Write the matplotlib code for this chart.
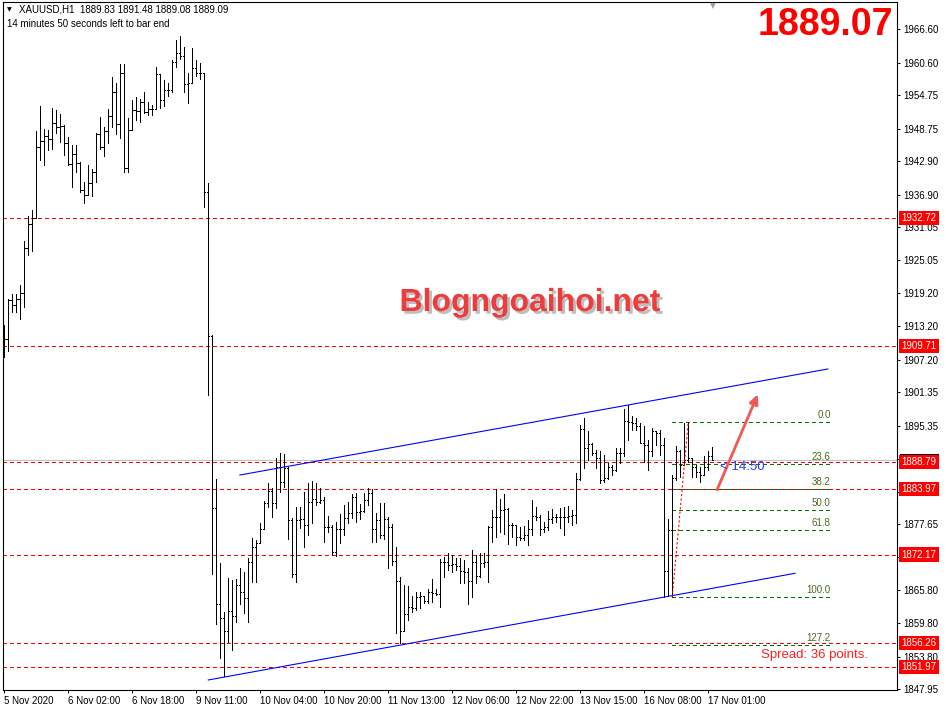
import matplotlib
matplotlib.use("Agg")
import matplotlib.pyplot as plt
import matplotlib.patheffects as pe
import matplotlib.transforms as mtrans
from matplotlib.collections import LineCollection
from matplotlib.patches import Rectangle

plt.rcParams['font.family'] = ['Liberation Sans', 'DejaVu Sans']

# ---------------- data ----------------
opens = [1908.5, 1910.9, 1917.9, 1917.0, 1918.2, 1919.2, 1927.2, 1931.6, 1932.6, 1945.4,
         1946.5, 1947.5, 1946.9, 1949.7, 1949.0, 1949.3, 1946.1, 1942.3, 1944.2, 1942.6,
         1937.7, 1936.9, 1938.9, 1940.9, 1947.7, 1945.4, 1948.3, 1951.1, 1955.4, 1949.5,
         1958.7, 1941.6, 1948.5, 1952.1, 1951.9, 1953.6, 1951.8, 1952.2, 1952.2, 1958.5,
         1953.9, 1955.6, 1955.6, 1960.7, 1962.4, 1961.8, 1956.8, 1956.9, 1959.6, 1958.7,
         1958.8, 1937.4, 1911.5, 1880.6, 1863.2, 1860.7, 1858.5, 1862.1, 1861.2, 1866.7,
         1865.4, 1864.3, 1870.8, 1873.6, 1874.2, 1876.8, 1881.4, 1883.6, 1881.5, 1888.0,
         1885.2, 1887.7, 1878.4, 1868.6, 1878.4, 1878.5, 1877.5, 1881.7, 1882.1, 1881.6,
         1882.0, 1877.1, 1877.1, 1872.7, 1876.7, 1876.7, 1878.7, 1879.7, 1882.5, 1879.8,
         1880.0, 1881.9, 1883.2, 1876.7, 1878.4, 1875.7, 1878.5, 1877.1, 1871.0, 1867.5,
         1858.5, 1861.5, 1862.8, 1862.5, 1864.6, 1864.7, 1863.9, 1865.4, 1865.3, 1865.1,
         1870.9, 1870.8, 1870.3, 1870.4, 1870.1, 1869.2, 1869.1, 1867.4, 1870.9, 1868.3,
         1870.6, 1870.9, 1877.2, 1878.9, 1878.9, 1880.2, 1880.3, 1877.5, 1877.4, 1875.4,
         1875.2, 1875.7, 1876.7, 1879.1, 1878.9, 1876.7, 1877.1, 1878.5, 1879.0, 1878.9,
         1878.9, 1878.9, 1879.1, 1879.3, 1885.7, 1894.7, 1891.4, 1892.0, 1890.5, 1889.5,
         1885.5, 1886.0, 1888.0, 1887.4, 1890.4, 1890.5, 1896.2, 1896.0, 1895.8, 1895.3,
         1892.3, 1891.9, 1890.7, 1894.3, 1894.0, 1891.9, 1869.2, 1876.6, 1885.9, 1890.7,
         1888.3, 1889.2, 1889.5, 1888.0, 1887.1, 1886.5, 1888.0, 1889.83]

highs = [1913.4, 1918.2, 1919.1, 1919.1, 1920.7, 1928.5, 1933.0, 1934.1, 1948.3, 1952.8,
         1948.7, 1948.5, 1952.4, 1952.1, 1951.3, 1949.4, 1947.3, 1945.8, 1945.8, 1942.8,
         1939.2, 1942.2, 1941.4, 1947.9, 1950.8, 1949.1, 1952.2, 1958.1, 1957.0, 1960.4,
         1960.4, 1950.6, 1953.9, 1954.5, 1954.0, 1955.4, 1953.6, 1953.0, 1959.9, 1958.6,
         1957.4, 1956.9, 1961.0, 1964.7, 1965.4, 1963.4, 1958.7, 1963.2, 1961.1, 1960.5,
         1958.8, 1939.0, 1911.6, 1885.7, 1870.6, 1861.8, 1867.9, 1867.6, 1867.7, 1869.7,
         1869.1, 1871.5, 1875.1, 1874.7, 1877.8, 1881.8, 1885.0, 1884.1, 1889.5, 1890.4,
         1890.2, 1888.0, 1878.7, 1880.8, 1880.7, 1883.5, 1885.1, 1885.4, 1885.0, 1884.1,
         1882.5, 1879.1, 1877.5, 1878.1, 1879.5, 1881.1, 1881.7, 1883.0, 1883.2, 1881.2,
         1883.3, 1884.2, 1883.9, 1879.6, 1881.4, 1881.5, 1879.0, 1877.6, 1873.6, 1868.1,
         1866.7, 1866.5, 1864.7, 1865.5, 1865.5, 1864.8, 1865.9, 1867.7, 1865.9, 1871.3,
         1871.8, 1872.4, 1872.1, 1871.5, 1871.5, 1871.2, 1869.7, 1873.0, 1872.1, 1872.4,
         1872.4, 1877.3, 1880.2, 1883.9, 1882.1, 1883.1, 1880.5, 1877.8, 1877.5, 1877.1,
         1877.3, 1878.4, 1881.9, 1880.8, 1879.3, 1878.1, 1880.0, 1880.3, 1879.5, 1880.5,
         1880.8, 1880.9, 1880.1, 1886.9, 1895.5, 1896.7, 1894.3, 1892.2, 1891.0, 1890.7,
         1890.1, 1888.6, 1888.3, 1891.3, 1891.3, 1898.3, 1899.1, 1897.1, 1896.7, 1895.8,
         1895.2, 1892.8, 1894.9, 1894.3, 1894.6, 1893.1, 1878.6, 1886.5, 1891.6, 1891.0,
         1895.8, 1895.95, 1889.6, 1888.3, 1888.0, 1889.8, 1890.7, 1891.48]

lows = [1907.7, 1908.8, 1915.8, 1915.8, 1914.6, 1916.6, 1926.1, 1926.8, 1932.6, 1943.1,
        1942.2, 1944.9, 1945.0, 1947.9, 1946.4, 1944.0, 1942.2, 1938.3, 1941.0, 1937.4,
        1935.4, 1936.8, 1936.7, 1939.2, 1945.0, 1943.8, 1946.2, 1949.1, 1947.8, 1947.0,
        1941.0, 1941.0, 1949.8, 1950.3, 1949.9, 1951.6, 1951.2, 1951.2, 1952.2, 1952.5,
        1952.8, 1954.6, 1955.4, 1959.9, 1961.2, 1955.4, 1953.3, 1956.9, 1958.2, 1957.6,
        1934.7, 1900.8, 1868.6, 1859.6, 1853.5, 1850.3, 1856.5, 1855.1, 1860.1, 1863.3,
        1861.6, 1860.1, 1867.3, 1867.3, 1874.2, 1876.8, 1880.8, 1878.9, 1880.5, 1883.5,
        1884.4, 1874.9, 1868.2, 1867.3, 1876.9, 1873.5, 1875.7, 1877.9, 1881.1, 1881.5,
        1874.5, 1876.3, 1872.1, 1871.9, 1874.2, 1875.7, 1877.8, 1878.7, 1878.1, 1878.5,
        1879.9, 1881.1, 1874.5, 1874.5, 1875.1, 1875.0, 1869.8, 1870.3, 1858.1, 1856.3,
        1858.5, 1860.4, 1861.9, 1862.2, 1862.5, 1863.4, 1863.5, 1863.7, 1864.9, 1862.8,
        1868.2, 1869.4, 1869.1, 1869.4, 1867.1, 1867.1, 1863.2, 1864.6, 1867.1, 1868.2,
        1870.0, 1867.3, 1874.5, 1875.4, 1876.3, 1875.9, 1874.1, 1875.4, 1873.9, 1874.8,
        1874.8, 1873.9, 1875.7, 1878.4, 1875.7, 1876.3, 1876.6, 1877.9, 1878.1, 1876.9,
        1875.7, 1878.0, 1877.5, 1877.9, 1885.5, 1887.7, 1889.2, 1890.1, 1887.7, 1885.0,
        1885.3, 1885.8, 1886.5, 1887.2, 1888.6, 1889.8, 1892.8, 1894.6, 1894.6, 1892.2,
        1888.9, 1887.4, 1889.8, 1891.9, 1890.1, 1864.6, 1864.9, 1864.54, 1885.5, 1886.2,
        1888.3, 1888.9, 1886.2, 1886.2, 1885.3, 1886.5, 1887.4, 1889.08]

closes = [1910.9, 1917.9, 1917.0, 1918.2, 1919.2, 1927.2, 1931.6, 1932.6, 1945.4, 1946.5,
          1947.5, 1946.9, 1949.7, 1949.0, 1949.3, 1946.1, 1942.3, 1944.2, 1942.6, 1937.7,
          1936.9, 1938.9, 1940.9, 1947.7, 1945.4, 1948.3, 1951.1, 1955.4, 1949.5, 1958.7,
          1941.6, 1948.5, 1952.1, 1951.9, 1953.6, 1951.8, 1952.2, 1952.2, 1958.5, 1953.9,
          1955.6, 1955.6, 1960.7, 1962.4, 1961.8, 1956.8, 1956.9, 1959.6, 1958.7, 1958.8,
          1937.4, 1911.5, 1880.6, 1863.2, 1860.7, 1858.5, 1862.1, 1861.2, 1866.7, 1865.4,
          1864.3, 1870.8, 1873.6, 1874.2, 1876.8, 1881.4, 1883.6, 1881.5, 1888.0, 1885.2,
          1887.7, 1878.4, 1868.6, 1878.4, 1878.5, 1877.5, 1881.7, 1882.1, 1881.6, 1882.0,
          1877.1, 1877.1, 1872.7, 1876.7, 1876.7, 1878.7, 1879.7, 1882.5, 1879.8, 1880.0,
          1881.9, 1883.2, 1876.7, 1878.4, 1875.7, 1878.5, 1877.1, 1871.0, 1867.5, 1858.5,
          1861.5, 1862.8, 1862.5, 1864.6, 1864.7, 1863.9, 1865.4, 1865.3, 1865.1, 1870.9,
          1870.8, 1870.3, 1870.4, 1870.1, 1869.2, 1869.1, 1867.4, 1870.9, 1868.3, 1870.6,
          1870.9, 1877.2, 1878.9, 1878.9, 1880.2, 1880.3, 1877.5, 1877.4, 1875.4, 1875.2,
          1875.7, 1876.7, 1879.1, 1878.9, 1876.7, 1877.1, 1878.5, 1879.0, 1878.9, 1878.9,
          1878.9, 1879.1, 1879.3, 1885.7, 1894.7, 1891.4, 1892.0, 1890.5, 1889.5, 1885.5,
          1886.0, 1888.0, 1887.4, 1890.4, 1890.5, 1896.2, 1896.0, 1895.8, 1895.3, 1892.3,
          1891.9, 1890.7, 1894.3, 1894.0, 1891.9, 1869.2, 1876.6, 1885.9, 1890.7, 1888.3,
          1889.2, 1889.5, 1888.0, 1887.1, 1886.5, 1888.0, 1889.8, 1889.09]

level_lines = [1932.72, 1909.71, 1888.79, 1883.97, 1872.17, 1856.26, 1851.97]
bid_price = 1889.09
price_ticks = [1966.60, 1960.60, 1954.75, 1948.75, 1942.90, 1936.90, 1931.05, 1925.05,
               1919.20, 1913.20, 1907.20, 1901.35, 1895.35, 1889.35, 1883.50, 1877.65,
               1871.65, 1865.80, 1859.80, 1853.80, 1847.95]
hidden_tick_labels = [1889.35, 1883.50, 1871.65]
date_labels = ['5 Nov 2020', '6 Nov 02:00', '6 Nov 18:00', '9 Nov 11:00', '10 Nov 04:00',
               '10 Nov 20:00', '11 Nov 13:00', '12 Nov 06:00', '12 Nov 22:00',
               '13 Nov 15:00', '16 Nov 08:00', '17 Nov 01:00']
date_bars = [0, 16, 32, 48, 64, 80, 96, 112, 128, 144, 160, 176]
fib_levels = [0.0, 23.6, 38.2, 50.0, 61.8, 100.0, 127.2]
fib_high = 1895.95
fib_low = 1864.54
fib_low_bar = 167
fib_high_bar = 171
upper_channel_x = [58.9, 205.9]
upper_channel_y = [1886.47, 1905.53]
lower_channel_x = [51.0, 197.7]
lower_channel_y = [1849.62, 1868.80]
arrow_from = (178.2, 1883.8)
arrow_to = (188.4, 1901.0)

# ---------------- figure ----------------
W, H = 946, 714
fig = plt.figure(figsize=(W / 100, H / 100), dpi=100)
fig.patch.set_facecolor('white')
ax = fig.add_axes([3 / W, (H - 690) / H, (897 - 3) / W, (690 - 2) / H])
ax.set_xlim(-0.33, 223.2)
ax.set_ylim(1847.82, 1971.51)

PX = 0.72  # one pixel in points

# OHLC bars
n = len(closes)
segs_v, segs_o, segs_c = [], [], []
for i in range(n):
    lo = min(lows[i], opens[i], closes[i])
    hi = max(highs[i], opens[i], closes[i])
    segs_v.append([(i, lo), (i, hi)])
    segs_o.append([(i - 0.3, opens[i]), (i, opens[i])])
    segs_c.append([(i, closes[i]), (i + 0.3, closes[i])])
for segs in (segs_v, segs_o, segs_c):
    lc = LineCollection(segs, colors='black', linewidths=PX, antialiased=False, zorder=3)
    ax.add_collection(lc)

# bid line
ax.axhline(bid_price, color='#c0c0c0', lw=PX, zorder=1, antialiased=False)

# red dashed level lines
for p in level_lines:
    ax.axhline(p, color='#ff0000', lw=PX, dashes=(4, 3), zorder=2, antialiased=False)

# channel lines
ax.plot(upper_channel_x, upper_channel_y, color='#0000ff', lw=1.1 * PX, zorder=4)
ax.plot(lower_channel_x, lower_channel_y, color='#0000ff', lw=1.1 * PX, zorder=4)

# fibonacci
fib_end = 206.6
for lv in fib_levels:
    p = fib_high - (fib_high - fib_low) * lv / 100.0
    ax.plot([fib_low_bar - 0.1, fib_end], [p, p], color='#007000', lw=PX,
            dashes=(4, 3), zorder=2, antialiased=False)
    ax.text(fib_end, p + 0.35, f'{lv:.1f}', ha='right', va='bottom', fontsize=7,
            color='#4f6a1e', zorder=5)
ax.plot([fib_low_bar, fib_high_bar], [fib_low, fib_high], color='#ff0000', lw=1.1 * PX,
        dashes=(2, 2), zorder=4)

# arrow
ann = ax.annotate('', xy=arrow_to, xytext=arrow_from,
                  arrowprops=dict(arrowstyle='-|>,head_length=0.55,head_width=0.25',
                                  color='#f25858', lw=2.0, shrinkA=0, shrinkB=0),
                  zorder=6)
ann.arrow_patch.set_path_effects([pe.withSimplePatchShadow(offset=(1.5, -1.5),
                                  shadow_rgbFace='#808080', alpha=0.4)])

# axes styling
for s in ax.spines.values():
    s.set_color('black')
    s.set_linewidth(1.1 * PX)
ax.yaxis.tick_right()
ax.set_yticks(price_ticks)
ax.set_yticklabels(['' if v in hidden_tick_labels else f'{v:.2f}' for v in price_ticks])
ax.tick_params(axis='y', direction='out', length=3 * PX, width=PX, pad=2.2,
               labelsize=7, colors='black')
ax.set_xticks(date_bars)
ax.set_xticklabels(date_labels)
ax.tick_params(axis='x', direction='out', length=3 * PX, width=PX, pad=2.0,
               labelsize=7, colors='black')
for lbl in ax.get_xticklabels():
    lbl.set_ha('left')

# price labels in axis
tr = mtrans.blended_transform_factory(ax.transAxes, ax.transData)
# current bid marker (mostly hidden behind the 1888.79 label)
bid_box = Rectangle((1 + 3.0 / 894, bid_price - 1.0), 38.5 / 894, 2.2, transform=tr,
                    facecolor='black', edgecolor='none', clip_on=False, zorder=7)
ax.add_patch(bid_box)
for p in level_lines:
    ax.text(1 + 4.5 / 894, p, f'{p:.2f}', transform=tr, ha='left', va='center',
            fontsize=7, color='white', clip_on=False, zorder=9,
            bbox=dict(boxstyle='square,pad=0.22', fc='#ff0000', ec='none'))

# texts
def fx(px):
    return px / W

def fy(py):
    return 1 - py / H

fig.text(fx(7), fy(10), '\u25BC', fontsize=4.5, va='center', ha='left', color='black',
         family=['DejaVu Sans'])
fig.text(fx(19), fy(10), 'XAUUSD,H1  1889.83 1891.48 1889.08 1889.09', fontsize=7,
         va='center', ha='left', color='black')
fig.text(fx(7), fy(24), '14 minutes 50 seconds left to bar end', fontsize=7,
         va='center', ha='left', color='black')
fig.text(fx(713), fy(6), '\u25BC', fontsize=5.5, va='center', ha='center', color='#a0a0a0',
         family=['DejaVu Sans'])
fig.text(fx(893), fy(25), '1889.07', fontsize=27, fontweight='bold', color='#ff0000',
         ha='right', va='center')
fig.text(fx(530), fy(303), 'Blogngoaihoi.net', fontsize=23, fontweight='bold',
         color='#ee3b3b', ha='center', va='center',
         path_effects=[pe.withSimplePatchShadow(offset=(2, -2), shadow_rgbFace='#707070',
                                                alpha=0.45)])
fig.text(fx(720), fy(467), '< 14:50', fontsize=9.5, color='#2a3cff', ha='left', va='center')
fig.text(fx(761), fy(655), 'Spread: 36 points.', fontsize=9.5, color='#ff2020',
         ha='left', va='center')

fig.savefig('out.png', dpi=100)
